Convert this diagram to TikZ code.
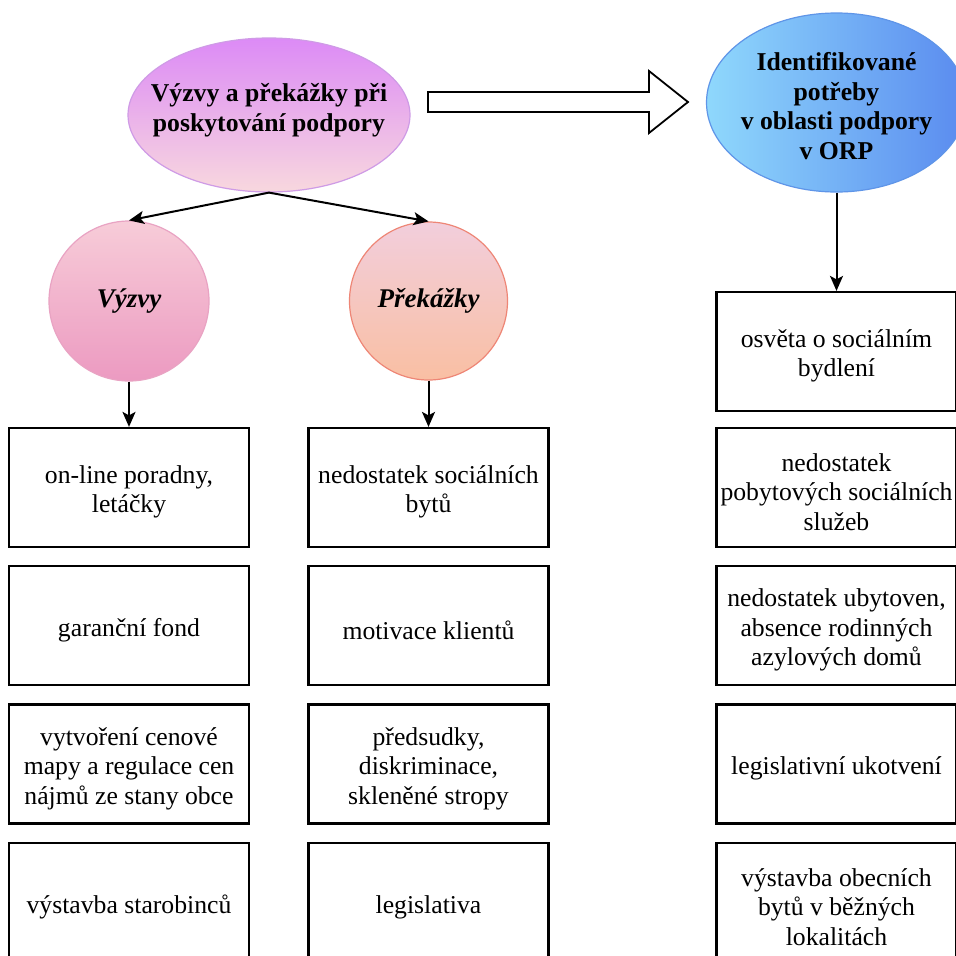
\documentclass[tikz,border=0pt]{standalone}
\usepackage{fontspec}
\setmainfont{Liberation Serif}
\usetikzlibrary{arrows.meta,shapes.geometric}
\definecolor{violetT}{HTML}{DC8AF6}
\definecolor{violetB}{HTML}{F8D8DE}
\definecolor{violetS}{HTML}{CF9BE6}
\definecolor{blueL}{HTML}{8FD8FC}
\definecolor{blueR}{HTML}{5A8BEF}
\definecolor{blueS}{HTML}{5F95E8}
\definecolor{pinkT}{HTML}{F7CCD8}
\definecolor{pinkB}{HTML}{EC9AC1}
\definecolor{pinkS}{HTML}{E9A3C3}
\definecolor{peachT}{HTML}{F2CEDC}
\definecolor{peachB}{HTML}{F9BFA3}
\definecolor{peachS}{HTML}{EE8676}
\begin{document}
\begin{tikzpicture}[x=1pt,y=-1pt,
  txt/.style={font=\fontsize{25.7}{29.5}\selectfont, align=center},
  btxt/.style={font=\fontsize{25.7}{29.5}\selectfont\bfseries, align=center},
  bitxt/.style={font=\fontsize{27}{30}\selectfont\bfseries\itshape, align=center},
  card/.style={draw=black, line width=2.2pt, minimum width=240pt, minimum height=119pt, inner sep=0pt,
               label={[txt, yshift=-4.5pt]center:{#1}}},
  bubble/.style={circle, inner sep=0pt, line width=1.2pt, bitxt},
  oval/.style={ellipse, line width=1.2pt, inner sep=0pt},
  conn/.style={line width=2pt, -{Stealth[length=15pt,width=13pt,inset=3.5pt]}},
  ]
\path[use as bounding box, fill=white] (0,0) rectangle (956,956);

% top ellipses
\node[oval, draw=violetS, top color=violetT, bottom color=violetB,
      minimum width=282pt, minimum height=154pt] (main) at (269,115) {};
\node[btxt, yshift=5pt] (maintext) at (main.center) {Výzvy a překážky při\\poskytování podpory};
\node[oval, draw=blueS, left color=blueL, right color=blueR,
      minimum width=260pt, minimum height=179pt] (needs) at (836.5,102.5) {};
\node[btxt, yshift=-3.5pt] (needstext) at (needs.center) {Identifikované\\potřeby\\v oblasti podpory\\v ORP};

% block arrow
\draw[line width=1.8pt, fill=white] (428,92) -- (649,92) -- (649,71) -- (688,102) -- (649,133) -- (649,112) -- (428,112) -- cycle;

% circles
\node[bubble, draw=pinkS, top color=pinkT, bottom color=pinkB, minimum size=160pt] (vyz) at (129,301) {Výzvy};
\node[bubble, draw=peachS, top color=peachT, bottom color=peachB, minimum size=158pt] (prek) at (428.5,301) {Překážky};

% left column
\node[card={on-line poradny,\\letáčky}] (l1) at (129,487.5) {};
\node[card={garanční fond}] (l2) at (129,625.5) {};
\node[card={vytvoření cenové\\mapy a regulace cen\\nájmů ze stany obce}] (l3) at (129,764) {};
\node[card={výstavba starobinců}] (l4) at (129,902.5) {};

% middle column
\node[card={nedostatek sociálních\\bytů}] (m1) at (428.5,487.5) {};
\node[card={motivace klientů}] (m2) at (428.5,625.5) {};
\node[card={předsudky,\\diskriminace,\\skleněné stropy}] (m3) at (428.5,764) {};
\node[card={legislativa}] (m4) at (428.5,902.5) {};

% right column
\node[card={osvěta o sociálním\\bydlení}] (r1) at (836.5,351.5) {};
\node[card={nedostatek\\pobytových sociálních\\služeb}] (r2) at (836.5,487.5) {};
\node[card={nedostatek ubytoven,\\absence rodinných\\azylových domů}] (r3) at (836.5,625.5) {};
\node[card={legislativní ukotvení}] (r4) at (836.5,764) {};
\node[card={výstavba obecních\\bytů v běžných\\lokalitách}] (r5) at (836.5,902.5) {};

% connectors
\draw[conn] (main.south) -- (vyz.north);
\draw[conn] (main.south) -- (prek.north);
\draw[conn] (vyz.south) -- (l1.north);
\draw[conn] (prek.south) -- (m1.north);
\draw[conn] (needs.south) -- (r1.north);
\end{tikzpicture}
\end{document}
